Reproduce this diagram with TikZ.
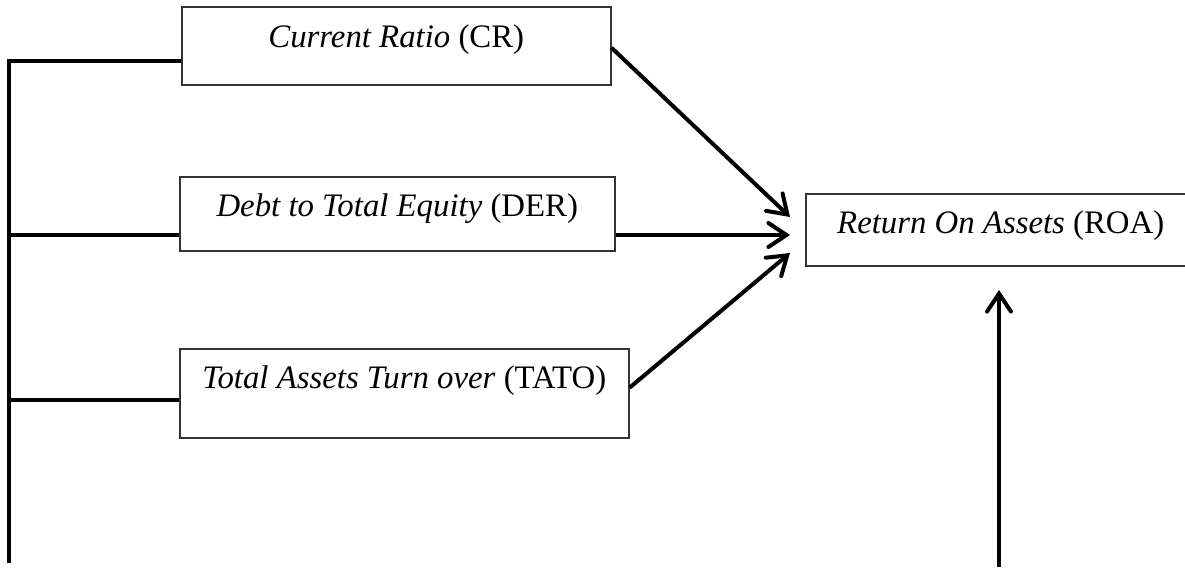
\documentclass[tikz,border=0pt]{standalone}
\usepackage{fontspec}
\setmainfont{Liberation Serif}
\usetikzlibrary{arrows.meta}
\tikzset{
  varbox/.style={draw=black!80, line width=1.5pt, rectangle, inner xsep=0pt, inner ysep=0pt,
    font=\fontsize{32.8}{39}\selectfont, anchor=north west},
  link/.style={line width=4pt},
  arrowlink/.style={line width=4pt, -{Straight Barb[length=18pt,width=24pt,line cap=round]}},
}
\begin{document}
\begin{tikzpicture}[x=1pt,y=-1pt]
\useasboundingbox (0,0) rectangle (1185,571);
\clip (0,0) rectangle (1185,571);
\node[varbox, minimum width=429pt, text height=41pt, text depth=37pt] (cr) at (181,6) {\textit{Current Ratio} (CR)};
\node[varbox, minimum width=435pt, text height=40pt, text depth=34pt] (der) at (179,176) {\textit{Debt to Total Equity} (DER)};
\node[varbox, minimum width=449pt, text height=40pt, text depth=49pt] (tato) at (179,348) {\textit{Total Assets Turn over} (TATO)};
\node[varbox, minimum width=390pt, text height=40pt, text depth=32pt] (roa) at (805,193) {\textit{Return On Assets} (ROA)};
\coordinate (trunkTop) at (9,61);
\coordinate (trunkBot) at (9,563);
\coordinate (trunkDer) at (9,235);
\coordinate (trunkTato) at (9,400);
\coordinate (t1) at (790,217);
\coordinate (t2) at (790,235);
\coordinate (t3) at (790,253);
\coordinate (upBot) at (999,567);
\coordinate (upTop) at (999,290);
\draw[link] (trunkBot) -- (trunkTop) -- (cr.west |- trunkTop);
\draw[link] (trunkDer) -- (der.west |- trunkDer);
\draw[link] (trunkTato) -- (tato.west |- trunkTato);
\draw[arrowlink] ([yshift=-2pt]cr.east) -- (t1);
\draw[arrowlink] (der.east |- t2) -- (t2);
\draw[arrowlink] ([yshift=5.5pt]tato.east) -- (t3);
\draw[arrowlink] (upBot) -- (upTop);
\end{tikzpicture}
\end{document}
